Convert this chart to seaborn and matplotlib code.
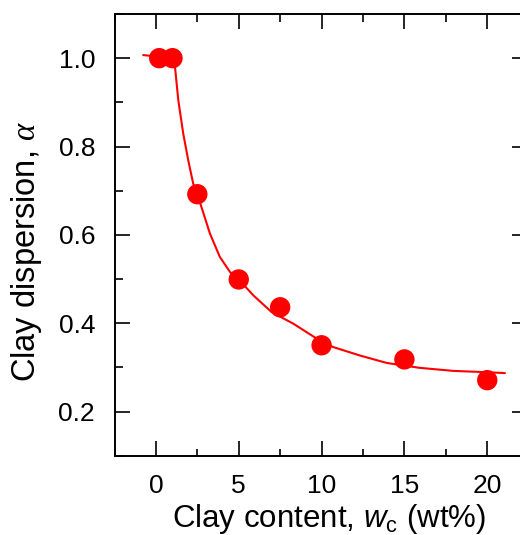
import matplotlib
matplotlib.use("Agg")
import matplotlib.pyplot as plt
import seaborn as sns
import pandas as pd
from matplotlib.ticker import MultipleLocator

# Measured data points
clay_content = [0.2, 1.0, 2.5, 5.0, 7.5, 10.0, 15.0, 20.0]
clay_dispersion = [1.0, 1.0, 0.692, 0.499, 0.436, 0.350, 0.318, 0.271]

# Fitted curve
fit_x = [-0.77, 1.1, 1.35, 1.65, 1.95, 2.25, 2.5, 2.86, 3.26, 3.86, 4.47, 5.0,
         5.88, 6.99, 8.29, 9.5, 10.0, 10.7, 12.3, 13.93, 15.9, 17.95, 20.0, 21.07]
fit_y = [1.007, 1.0, 0.905, 0.829, 0.769, 0.716, 0.692, 0.650, 0.603, 0.550,
         0.516, 0.499, 0.463, 0.425, 0.399, 0.370, 0.358, 0.346, 0.327, 0.310,
         0.299, 0.292, 0.289, 0.287]

x_ticks = [0, 5, 10, 15, 20]
y_ticks = [0.2, 0.4, 0.6, 0.8, 1.0]
y_tick_labels = ["0.2", "0.4", "0.6", "0.8", "1.0"]

sns.set_style("ticks")
plt.rcParams["font.family"] = ["Liberation Sans", "DejaVu Sans"]
plt.rcParams["mathtext.fontset"] = "custom"
plt.rcParams["mathtext.rm"] = "Liberation Sans"
plt.rcParams["mathtext.it"] = "Liberation Sans:italic"
plt.rcParams["mathtext.bf"] = "Liberation Serif:italic"

fig = plt.figure(figsize=(5.2, 5.35), dpi=100)
ax = fig.add_axes([114.5 / 520, 1 - 455.7 / 535, (527 - 114.5) / 520, (455.7 - 14) / 535])

pts = pd.DataFrame({"x": clay_content, "y": clay_dispersion})
fit = pd.DataFrame({"x": fit_x, "y": fit_y})

sns.lineplot(data=fit, x="x", y="y", color="#ff0000", linewidth=1.5, ax=ax, zorder=2)
sns.scatterplot(data=pts, x="x", y="y", color="#ff0000", s=215, edgecolor="none",
                linewidth=0, ax=ax, zorder=3)

ax.set_xlim(-2.5, 22.4)
ax.set_ylim(0.1, 1.1)
ax.set_xticks(x_ticks)
ax.set_yticks(y_ticks)
ax.set_yticklabels(y_tick_labels)
ax.xaxis.set_minor_locator(MultipleLocator(2.5))
ax.yaxis.set_minor_locator(MultipleLocator(0.1))

for s in ax.spines.values():
    s.set_visible(True)
    s.set_linewidth(1.4)
    s.set_color("black")

ax.tick_params(which="both", direction="in", top=True, right=True, width=1.2, color="black")
ax.tick_params(which="major", length=10.8, labelsize=19, labelcolor="black")
ax.tick_params(axis="x", which="major", pad=13)
ax.tick_params(axis="y", which="major", pad=14)
ax.tick_params(which="minor", length=5.4)

ax.set_xlabel(r"Clay content, $w_{\mathrm{c}}$ (wt%)", fontsize=22.5, color="black")
ax.set_ylabel(r"Clay dispersion, $\mathbf{\alpha}$", fontsize=23.5, color="black")
ax.xaxis.set_label_coords(0.52, -0.104)
ax.yaxis.set_label_coords(-0.17, 0.462)

fig.savefig("out.png", dpi=100)
